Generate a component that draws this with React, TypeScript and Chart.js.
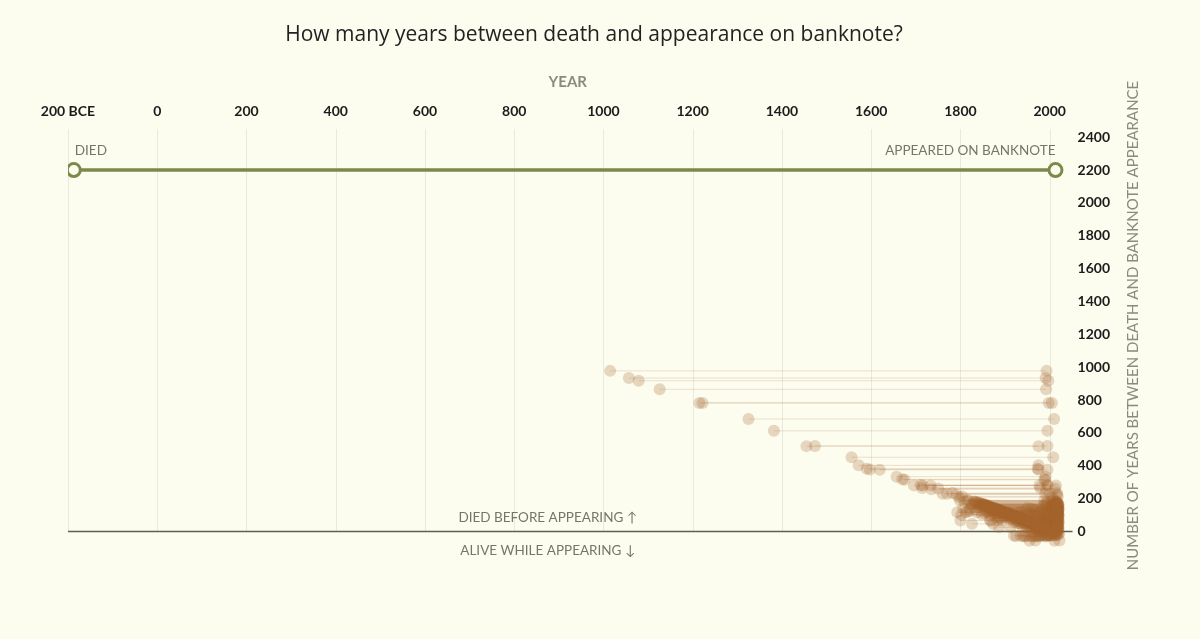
import React, { useEffect, useRef } from "react";
import { Chart, registerables } from "chart.js";

Chart.register(...registerables);

const BG = "#fcfcef";
const GREEN = "#7b8a4b";
const FONT = "Lato, 'Open Sans', sans-serif";

const chartTitle = "How many years between death and appearance on banknote?";
const xAxisTitle = "YEAR";
const yAxisTitle = "NUMBER OF YEARS BETWEEN DEATH AND BANKNOTE APPEARANCE";

const xTickValues = [-200, 0, 200, 400, 600, 800, 1000, 1200, 1400, 1600, 1800, 2000];
const xTickLabels = ["200 BCE", "0", "200", "400", "600", "800", "1000", "1200", "1400", "1600", "1800", "2000"];
const yTickValues = [0, 200, 400, 600, 800, 1000, 1200, 1400, 1600, 1800, 2000, 2200, 2400];

// legend example dumbbell
const exampleDied = -187;
const exampleAppeared = 2013;
const exampleGap = 2200;

// year each person died
const diedYears = [
  1015, 1057, 1079, 1126, 1215, 1222, 1325, 1382, 1455, 1474,
  1556, 1572, 1590, 1597, 1619, 1657, 1670, 1675, 1696, 1711,
  1714, 1716, 1733, 1735, 1750, 1760, 1770, 1782, 1791, 1797,
  1799, 1804,
  1793, 1800, 1815, 1815, 1826, 1826, 1830, 1832, 1837, 1840,
  1842, 1844, 1845, 1847, 1848, 1849, 1850, 1852, 1854, 1855,
  1855, 1856, 1857, 1858, 1859, 1860, 1861, 1862, 1862, 1863,
  1864, 1865, 1866, 1867, 1868, 1869, 1870, 1870, 1871, 1872,
  1873, 1874, 1875, 1876, 1876, 1877, 1878, 1879, 1880, 1880,
  1881, 1882, 1883, 1884, 1885, 1885, 1886, 1887, 1888, 1889,
  1890, 1890, 1891, 1892, 1893, 1893, 1894, 1895, 1896, 1897,
  1897, 1898, 1899,
  1900, 1901, 1902, 1903, 1904, 1905, 1906, 1907, 1908, 1909,
  1910, 1911, 1912, 1913, 1914, 1915, 1916, 1917, 1918, 1919,
  1920, 1921, 1922, 1923, 1924, 1925, 1926, 1927, 1928, 1929,
  1930, 1931, 1932, 1933, 1934, 1935, 1936, 1937, 1938, 1939,
  1940, 1941, 1942, 1943, 1944, 1945, 1946, 1947, 1948, 1949,
  1950, 1951, 1952, 1953, 1954, 1955, 1956, 1957, 1958, 1959,
  1960,
  1961, 1962, 1963, 1964, 1965, 1966, 1967, 1968, 1969, 1970,
  1971, 1972, 1973, 1974, 1975, 1976, 1977, 1978, 1979, 1980,
  1981, 1982, 1983, 1984, 1985, 1986, 1987, 1988, 1989, 1990,
  1991, 1992, 1993, 1994, 1995, 1996, 1997, 1998, 1999, 2000,
  2001, 2002, 2003, 2004, 2006, 2008, 2010, 2012,
  1945, 1952, 1960, 1968, 1975, 1985, 1990, 1995, 1997, 2000,
  2004, 2006, 2009, 2011, 2013, 2013, 2015, 2016, 2018, 2020,
  2021, 2022,
  1802, 1806, 1809, 1812, 1818, 1821, 1824, 1828, 1833, 1835,
  1838, 1841, 1843, 1846, 1851, 1853, 1858, 1861, 1865, 1868,
  1872, 1875, 1878, 1881, 1884, 1887, 1889, 1892, 1895, 1898,
  1902, 1906, 1910, 1914, 1918, 1922, 1926, 1930, 1935, 1938,
  1942, 1946, 1950, 1955, 1958, 1963, 1968, 1972, 1977, 1983,
  1987, 1992, 1996, 2001, 2005,
  1821, 1834, 1846, 1859, 1866, 1879, 1883, 1891,
];

// year the same person first appeared on a banknote
const appearedYears = [
  1993, 1991, 1997, 1992, 1998, 2005, 2010, 1995, 1975, 1995,
  2008, 1975, 1973, 1975, 1995, 1991, 1988, 1990, 1977, 1994,
  1979, 1996, 2014, 1992, 2012, 1990, 2000, 2016, 2017, 2006,
  1988, 2018,
  1910, 1867, 2004, 1935, 1873, 1994, 2012, 2015, 1954, 2008,
  2016, 2010, 1999, 2012, 1952, 2017, 2016, 2019, 2010, 2013,
  1965, 2005, 2020, 1978, 2015, 2016, 2002, 2017, 1985, 2011,
  2018, 2010, 2016, 1934, 2013, 2019, 2007, 1975, 2015, 2017,
  1996, 2018, 2012, 2016, 1988, 2004, 2020, 2014, 2010, 1990,
  2018, 2015, 1998, 2016, 2012, 1970, 1912, 2019, 2008, 2017,
  2014, 1980, 2002, 2018, 2011, 1960, 2016, 1995, 2013, 2019,
  1985, 2009, 2017,
  2012, 2017, 1990, 2015, 2008, 2019, 1995, 2013, 2016, 2002,
  2018, 1985, 2010, 2017, 1998, 2014, 2020, 1992, 2008, 2016,
  1975, 2012, 2019, 1999, 2015, 1988, 2017, 2005, 1978, 2014,
  2019, 1996, 2011, 1982, 2016, 2003, 1990, 2018, 2009, 1970,
  2015, 1995, 2012, 2020, 1985, 2002, 2017, 1993, 2010, 1975,
  2016, 1998, 2013, 1980, 2019, 2005, 1990, 2015, 1972, 2008,
  1995,
  2018, 1985, 2011, 1999, 2016, 1978, 2009, 1993, 2020, 1982,
  2014, 2001, 1990, 2017, 1996, 2008, 1987, 2013, 1999, 2019,
  1992, 2010, 2003, 1995, 2016, 2005, 1998, 2012, 2001, 2018,
  2007, 2013, 2000, 2017, 2009, 2004, 2015, 2010, 2020, 2012,
  2006, 2017, 2011, 2014, 2016, 2013, 2019, 2018,
  1920, 1925, 1935, 1940, 1945, 1965, 1960, 1968, 1978, 1975,
  1980, 1990, 1985, 1955, 1990, 2005, 2000, 1995, 2010, 2000,
  2012, 1968,
  1905, 1950, 1994, 1930, 2008, 1960, 1990, 1985, 2006, 2014,
  2017, 1992, 2018, 2005, 2014, 2018, 2012, 2019, 2015, 1998,
  2011, 2019, 2006, 2013, 2020, 2002, 2012, 2015, 2019, 2016,
  2016, 2018, 2013, 2019, 2015, 2011, 2020, 2016, 2018, 2013,
  2017, 2012, 2019, 2016, 2020, 2017, 2015, 2019, 2016, 2018,
  2015, 2019, 2017, 2015, 2019,
  1946, 1966, 1971, 1982, 1961, 1969, 1951, 1972,
];

export default function App() {
  const canvasRef = useRef<HTMLCanvasElement | null>(null);

  useEffect(() => {
    document.body.style.margin = "0";
    document.body.style.background = BG;
    const canvas = canvasRef.current;
    if (!canvas) return;

    const dots: { x: number; y: number }[] = [];
    const lines: { x: number; y: number | null }[] = [];
    const n = Math.min(diedYears.length, appearedYears.length);
    for (let i = 0; i < n; i++) {
      const gap = appearedYears[i] - diedYears[i];
      dots.push({ x: diedYears[i], y: gap });
      dots.push({ x: appearedYears[i], y: gap });
      lines.push({ x: diedYears[i], y: gap });
      lines.push({ x: appearedYears[i], y: gap });
      lines.push({ x: appearedYears[i], y: null });
    }

    const decor = {
      id: "decor",
      beforeDatasetsDraw(chart: any) {
        const { ctx, chartArea } = chart;
        const xs = chart.scales.x;
        const ys = chart.scales.y;
        const y0 = ys.getPixelForValue(0);
        ctx.save();
        // vertical grid lines
        ctx.strokeStyle = "#e9e9dc";
        ctx.lineWidth = 1;
        xTickValues.forEach((v) => {
          const px = Math.round(xs.getPixelForValue(v)) + 0.5;
          ctx.beginPath();
          ctx.moveTo(px, chartArea.top);
          ctx.lineTo(px, y0);
          ctx.stroke();
        });
        // baseline
        ctx.strokeStyle = "#5e5e52";
        ctx.lineWidth = 1.5;
        ctx.beginPath();
        ctx.moveTo(xs.getPixelForValue(-200), y0);
        ctx.lineTo(chartArea.right + 5, y0);
        ctx.stroke();
        // annotations
        ctx.fillStyle = "#75756a";
        ctx.font = `13.5px ${FONT}`;
        ctx.textBaseline = "middle";
        ctx.textAlign = "center";
        const cx = xs.getPixelForValue(875);
        ctx.fillText("DIED BEFORE APPEARING \u2191", cx, y0 - 14);
        ctx.fillText("ALIVE WHILE APPEARING \u2193", cx, y0 + 19);
        const yEx = ys.getPixelForValue(exampleGap);
        ctx.textAlign = "left";
        ctx.fillText("DIED", xs.getPixelForValue(exampleDied) + 1, yEx - 19);
        ctx.textAlign = "right";
        ctx.fillText("APPEARED ON BANKNOTE", xs.getPixelForValue(exampleAppeared), yEx - 19);
        ctx.restore();
      },
      afterDraw(chart: any) {
        const { ctx, chartArea } = chart;
        ctx.save();
        ctx.fillStyle = "#8a8a7e";
        ctx.font = `15px ${FONT}`;
        ctx.textAlign = "center";
        ctx.textBaseline = "middle";
        ctx.translate(chartArea.right + 66, (chartArea.top + chartArea.bottom) / 2 - 13);
        ctx.rotate(-Math.PI / 2);
        ctx.fillText(yAxisTitle, 0, 0);
        ctx.restore();
      },
    };

    const chart = new Chart(canvas, {
      type: "scatter",
      data: {
        datasets: [
          {
            type: "scatter",
            data: dots,
            pointRadius: 6,
            pointHoverRadius: 6,
            backgroundColor: "rgba(165,100,45,0.25)",
            borderWidth: 0,
          } as any,
          {
            type: "line",
            data: lines,
            showLine: true,
            spanGaps: false,
            borderColor: "rgba(170,110,60,0.2)",
            borderWidth: 1,
            pointRadius: 0,
            fill: false,
          } as any,
          {
            type: "line",
            data: [
              { x: exampleDied, y: exampleGap },
              { x: exampleAppeared, y: exampleGap },
            ],
            showLine: true,
            borderColor: GREEN,
            borderWidth: 3.5,
            pointRadius: 6.5,
            pointBorderWidth: 3,
            pointBorderColor: GREEN,
            pointBackgroundColor: BG,
            fill: false,
          } as any,
        ],
      },
      options: {
        animation: false,
        responsive: false,
        events: [],
        layout: { padding: { left: 68, right: 80, top: 0, bottom: 91 } },
        plugins: {
          legend: { display: false },
          tooltip: { enabled: false },
          title: {
            display: true,
            text: chartTitle,
            color: "#222222",
            font: { family: "'Open Sans', sans-serif", size: 21, weight: "500" as any },
            padding: { top: 22, bottom: 22 },
          },
        },
        scales: {
          x: {
            type: "linear",
            position: "top",
            min: -200,
            max: 2040,
            afterBuildTicks: (scale: any) => {
              scale.ticks = xTickValues.map((v) => ({ value: v }));
            },
            ticks: {
              autoSkip: false,
              maxRotation: 0,
              padding: 9.5,
              color: "#1c1c1c",
              font: { family: FONT, size: 14, weight: "bold" as any },
              callback: (_v: any, i: number) => xTickLabels[i],
            },
            grid: { display: false, drawTicks: false },
            border: { display: false },
            title: {
              display: true,
              text: xAxisTitle,
              color: "#8a8a7e",
              font: { family: FONT, size: 15, weight: "bold" as any },
              padding: { top: 4, bottom: 2 },
            },
          },
          y: {
            type: "linear",
            position: "right",
            min: -100,
            max: 2450,
            afterBuildTicks: (scale: any) => {
              scale.ticks = yTickValues.map((v) => ({ value: v }));
            },
            ticks: {
              padding: 10,
              color: "#1c1c1c",
              font: { family: FONT, size: 14, weight: "bold" as any },
              callback: (v: any) => String(v),
            },
            grid: { display: false, drawTicks: false },
            border: { display: false },
          },
        },
      },
      plugins: [decor],
    });

    return () => chart.destroy();
  }, []);

  return (
    <div style={{ width: 1200, height: 639, background: BG }}>
      <canvas ref={canvasRef} width={1200} height={639} style={{ display: "block" }} />
    </div>
  );
}
